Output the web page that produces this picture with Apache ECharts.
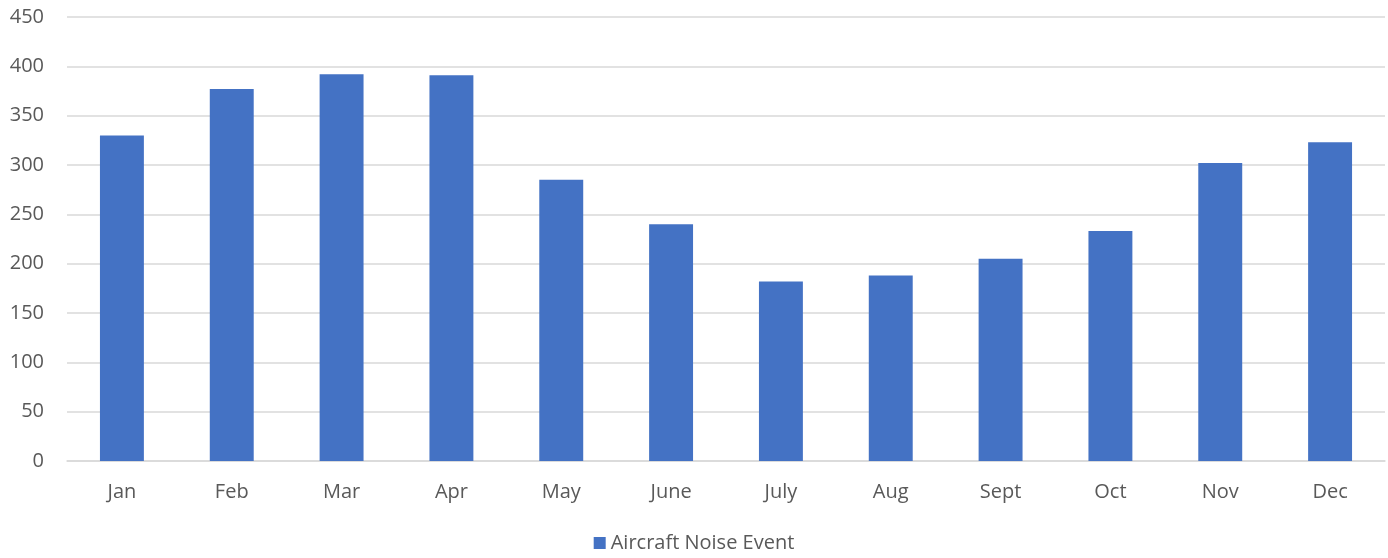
<!DOCTYPE html>
<html>
<head>
<meta charset="utf-8">
<script src="https://cdn.jsdelivr.net/npm/echarts@6/dist/echarts.min.js"></script>
<style>
  html, body { margin: 0; padding: 0; background: #fff; }
  #chart { width: 1388px; height: 558px; }
</style>
</head>
<body>
<div id="chart"></div>
<script>
const months = ["Jan", "Feb", "Mar", "Apr", "May", "June", "July", "Aug", "Sept", "Oct", "Nov", "Dec"];
const noiseEvents = [330, 377, 392, 391, 285, 240, 182, 188, 205, 233, 302, 323];
const seriesName = "Aircraft Noise Event";

const chart = echarts.init(document.getElementById("chart"));
const textFont = "'Open Sans', 'Noto Sans', sans-serif";

chart.setOption({
  animation: false,
  textStyle: { fontFamily: textFont },
  grid: { left: 67, right: 3, top: 17, bottom: 97 },
  legend: {
    bottom: 0,
    left: "center",
    itemWidth: 12,
    itemHeight: 12,
    itemGap: 8,
    icon: "rect",
    textStyle: { color: "#595959", fontSize: 20, fontFamily: textFont },
    data: [seriesName]
  },
  xAxis: {
    type: "category",
    data: months,
    axisTick: { show: false },
    axisLine: { lineStyle: { color: "#d9d9d9", width: 1.5 } },
    axisLabel: { color: "#595959", fontSize: 20, margin: 21 }
  },
  yAxis: {
    type: "value",
    min: 0,
    max: 450,
    interval: 50,
    axisLine: { show: false },
    axisTick: { show: false },
    axisLabel: { color: "#595959", fontSize: 20, margin: 23 },
    splitLine: { lineStyle: { color: "#d9d9d9", width: 1.5 } }
  },
  series: [{
    name: seriesName,
    type: "bar",
    data: noiseEvents,
    barWidth: "40%",
    itemStyle: { color: "#4472c4" }
  }]
});
</script>
</body>
</html>
